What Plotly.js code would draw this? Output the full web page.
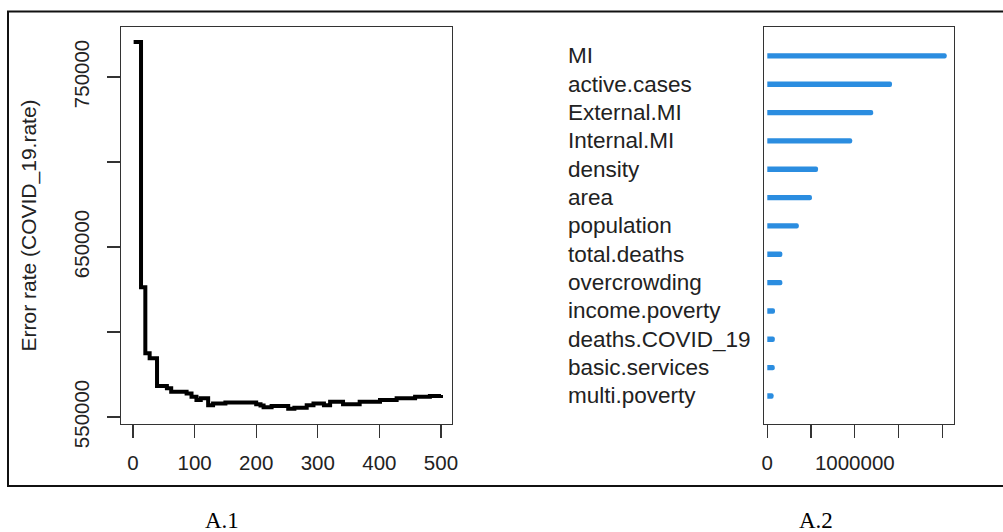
<!DOCTYPE html>
<html>
<head>
<meta charset="utf-8">
<script src="https://cdn.plot.ly/plotly-3.0.1.min.js"></script>
<style>html,body{margin:0;padding:0;background:#fff;}#chart{width:1003px;height:532px;}</style>
</head>
<body>
<div id="chart"></div>
<script>
// Panel A.1: OOB error vs number of trees (step corners)
const trees = [1, 13, 20, 27, 39, 55, 62, 87, 95, 103, 110, 122, 130, 150, 200, 207, 212, 225, 252, 262, 282, 293, 310, 320, 341, 368, 401, 428, 458, 482, 500];
const errorRate = [770600, 626300, 587500, 584500, 568200, 566900, 564900, 563900, 561900, 560000, 561000, 557000, 558000, 558600, 557500, 556800, 555700, 556500, 554900, 555400, 557000, 558000, 557000, 559000, 557500, 559000, 560000, 561000, 561900, 562300, 562900];
const errTickVals = [550000, 600000, 650000, 700000, 750000];
const errTickText = ['550000', '', '650000', '', '750000'];
const treeTicks = [0, 100, 200, 300, 400, 500];

// Panel A.2: variable importance
const variables = ['MI', 'active.cases', 'External.MI', 'Internal.MI', 'density', 'area', 'population', 'total.deaths', 'overcrowding', 'income.poverty', 'deaths.COVID_19', 'basic.services', 'multi.poverty'];
const importance = [2050000, 1425000, 1210000, 970000, 580000, 510000, 360000, 172000, 172000, 88000, 86000, 85000, 72000];
const impTickVals = [0, 500000, 1000000, 1500000, 2000000];
const impTickText = ['0', '', '1000000', '', ''];

const W = 1003, H = 532;
const px = v => v / W;
const py = v => 1 - v / H;
const font = {family: 'Liberation Sans, Arial, sans-serif', size: 20.5, color: '#222'};
const labelFont = {family: 'Liberation Sans, Arial, sans-serif', size: 22.5, color: '#222'};

const traces = [
  {x: trees, y: errorRate, type: 'scatter', mode: 'lines', line: {color: '#000', width: 4, shape: 'hv'}, xaxis: 'x', yaxis: 'y', hoverinfo: 'skip'},
  {x: importance, y: variables, type: 'bar', orientation: 'h', width: 0.19, marker: {color: '#2b8de0', cornerradius: 3}, xaxis: 'x2', yaxis: 'y2', hoverinfo: 'skip'}
];

const axBase = {showline: true, mirror: true, linecolor: '#333', linewidth: 1.3, ticks: 'outside', ticklen: 13, tickcolor: '#333', tickwidth: 1.3, showgrid: false, zeroline: false, tickfont: font};

const annotations = variables.map(v => ({
  xref: 'paper', yref: 'y2', x: px(566), y: v, text: v, showarrow: false, xanchor: 'left', yanchor: 'middle', font: labelFont
}));
annotations.push({xref: 'paper', yref: 'paper', x: px(28), y: py(225.5), text: 'Error rate (COVID_19.rate)', textangle: -90, showarrow: false, xanchor: 'center', yanchor: 'middle', font: {family: font.family, size: 21, color: '#222'}});
annotations.push({xref: 'paper', yref: 'paper', x: px(222), y: py(520), text: 'A.1', showarrow: false, xanchor: 'center', yanchor: 'middle', font: {family: 'Liberation Serif, serif', size: 23, color: '#000'}});
annotations.push({xref: 'paper', yref: 'paper', x: px(816), y: py(520), text: 'A.2', showarrow: false, xanchor: 'center', yanchor: 'middle', font: {family: 'Liberation Serif, serif', size: 23, color: '#000'}});

const layout = {
  width: W, height: H,
  margin: {l: 0, r: 0, t: 0, b: 0},
  paper_bgcolor: '#fff', plot_bgcolor: '#fff',
  showlegend: false,
  font: font,
  xaxis: Object.assign({}, axBase, {domain: [px(121), px(452)], range: [-19.5, 517.9], tickvals: treeTicks, ticktext: treeTicks.map(String), ticklabelstandoff: 7, anchor: 'y'}),
  yaxis: Object.assign({}, axBase, {domain: [py(424), py(27)], range: [545900, 779400], tickvals: errTickVals, ticktext: errTickText, tickangle: -90, ticklabelstandoff: 10, anchor: 'x'}),
  xaxis2: Object.assign({}, axBase, {domain: [px(764), px(954)], range: [-37700, 2133600], tickvals: impTickVals, ticktext: impTickText, ticklabelstandoff: 7, anchor: 'y2'}),
  yaxis2: Object.assign({}, axBase, {domain: [py(424), py(27)], type: 'category', categoryorder: 'array', categoryarray: variables, range: [12.99, -1.02], ticks: '', showticklabels: false, anchor: 'x2'}),
  annotations: annotations,
  shapes: [
    {type: 'rect', xref: 'paper', yref: 'paper', x0: px(8), x1: 1.05, y0: py(486), y1: py(11.5), line: {color: '#111', width: 2}, fillcolor: 'rgba(0,0,0,0)'}
  ]
};

Plotly.newPlot('chart', traces, layout, {staticPlot: true, displayModeBar: false});
</script>
</body>
</html>
